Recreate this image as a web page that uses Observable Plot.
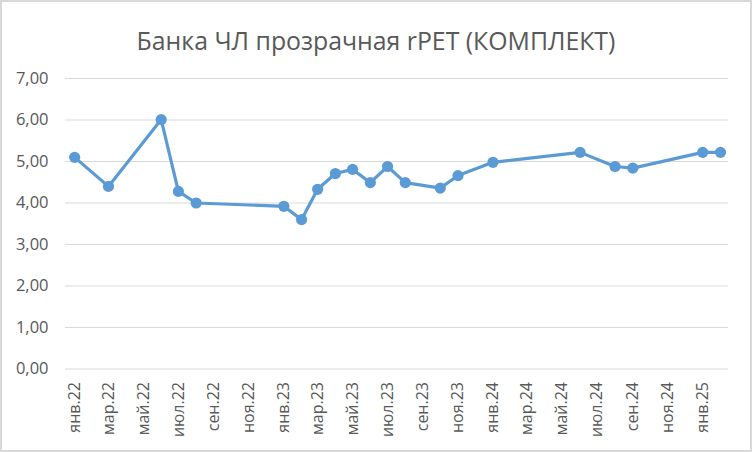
<!DOCTYPE html>
<html>
<head>
<meta charset="utf-8">
<script src="https://cdn.jsdelivr.net/npm/d3@7"></script>
<script src="https://cdn.jsdelivr.net/npm/@observablehq/plot@0.6"></script>
<style>
  html, body { margin: 0; padding: 0; background: #fff; }
  #wrap { position: relative; width: 752px; height: 452px; overflow: hidden; background: #fff; font-family: "Open Sans", sans-serif; }
  #title { position: absolute; left: 0; width: 752px; top: 28px; text-align: center; color: #595959; font-size: 22px; line-height: 1; white-space: nowrap; }
  #title span { display: inline-block; }
  #chart { position: absolute; left: 0; top: 60px; }
  #frame { position: absolute; left: 0; top: 0; width: 752px; height: 452px; box-sizing: border-box; border: 2px solid #d9d9d9; pointer-events: none; }
</style>
</head>
<body>
<div id="wrap">
  <div id="title"><span id="tspan">Банка ЧЛ прозрачная rPET (КОМПЛЕКТ)</span></div>
  <div id="chart"></div>
  <div id="frame"></div>
</div>
<script>
const titleText = "Банка ЧЛ прозрачная rPET (КОМПЛЕКТ)";
const monthNames = ["янв","фев","мар","апр","май","июн","июл","авг","сен","окт","ноя","дек"];
const dates = ["2022-01","2022-03","2022-06","2022-07","2022-08","2023-01","2023-02","2023-03","2023-04","2023-05","2023-06","2023-07","2023-08","2023-10","2023-11","2024-01","2024-06","2024-08","2024-09","2025-01","2025-02"];
const values = [5.10,4.40,6.01,4.28,4.00,3.92,3.60,4.33,4.71,4.81,4.49,4.88,4.49,4.36,4.66,4.98,5.22,4.88,4.84,5.22,5.22];
const yTicks = [0,1,2,3,4,5,6,7];
const tickDates = ["2022-01","2022-03","2022-05","2022-07","2022-09","2022-11","2023-01","2023-03","2023-05","2023-07","2023-09","2023-11","2024-01","2024-03","2024-05","2024-07","2024-09","2024-11","2025-01"];

const parse = s => { const [y, m] = s.split("-").map(Number); return new Date(Date.UTC(y, m - 1, 1)); };
const data = dates.map((d, i) => ({date: parse(d), value: values[i]}));
const ticks = tickDates.map(parse);
const fmtX = d => monthNames[d.getUTCMonth()] + "." + String(d.getUTCFullYear()).slice(2);
const fmtY = v => d3.format(".2f")(v).replace(".", ",");

// fit title width
const tspan = document.getElementById("tspan");
tspan.textContent = titleText;
const w = tspan.getBoundingClientRect().width;
tspan.parentElement.style.fontSize = (22 * 479 / w) + "px";

const plot = Plot.plot({
  width: 752,
  height: 392,
  marginLeft: 65,
  marginRight: 24,
  marginTop: 18,
  marginBottom: 83.5,
  style: {fontFamily: "Open Sans, sans-serif", color: "#595959", background: "transparent"},
  x: {type: "utc", domain: [new Date(Date.UTC(2021, 11, 16)), new Date(Date.UTC(2025, 1, 15))]},
  y: {domain: [0, 7]},
  marks: [
    Plot.gridY(yTicks, {stroke: "#d9d9d9", strokeOpacity: 1, strokeWidth: 1}),
    Plot.axisY(yTicks, {tickSize: 0, tickPadding: 17, tickFormat: fmtY, fontSize: 16.5, fill: "#595959", label: null}),
    Plot.axisX(ticks, {tickSize: 0, tickPadding: 13, tickRotate: -90, tickFormat: fmtX, fontSize: 16, fill: "#595959", label: null}),
    Plot.line(data, {x: "date", y: "value", stroke: "#5b9bd5", strokeWidth: 3.2, strokeLinejoin: "round", strokeLinecap: "round"}),
    Plot.dot(data, {x: "date", y: "value", r: 5.6, fill: "#5b9bd5", stroke: "none"})
  ]
});
document.getElementById("chart").appendChild(plot);
</script>
</body>
</html>
